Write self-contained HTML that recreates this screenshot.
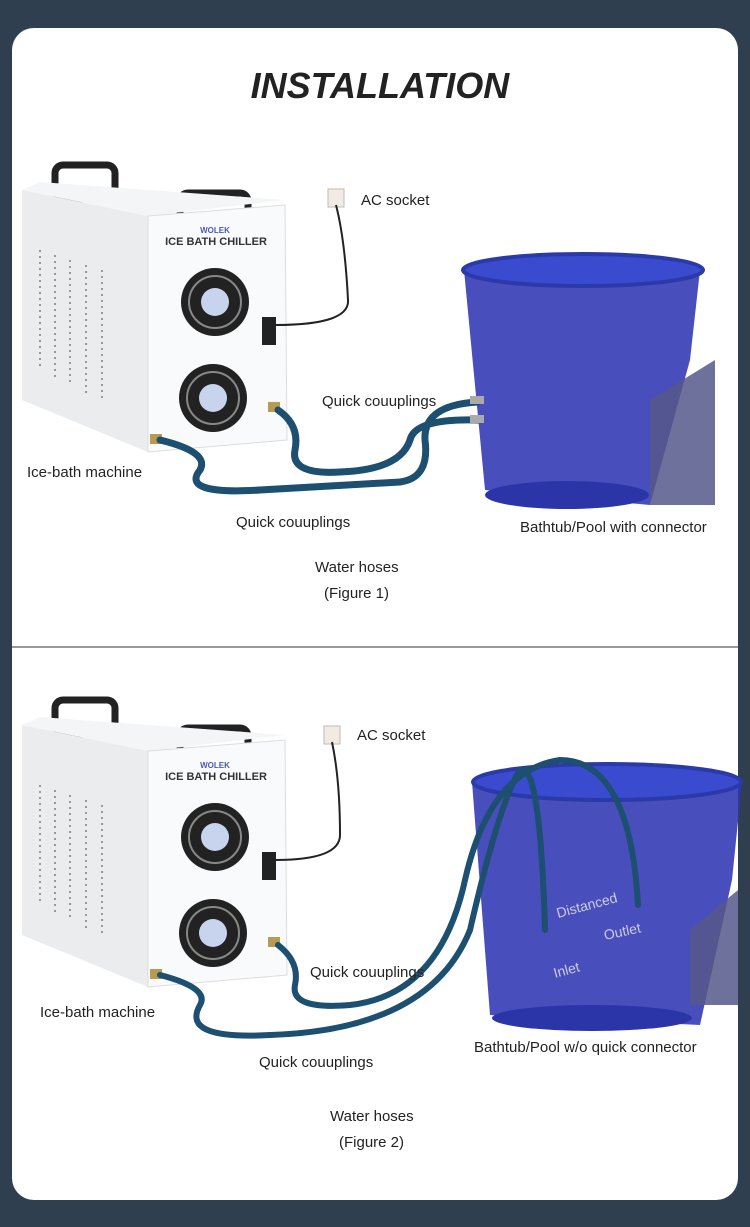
<!DOCTYPE html>
<html><head><meta charset="utf-8"><style>
html,body{margin:0;padding:0;background:#2f3f50;}
body{width:750px;height:1227px;position:relative;overflow:hidden;font-family:"Liberation Sans",sans-serif;}
.card{position:absolute;left:12px;top:28px;width:726px;height:1172px;background:#fff;border-radius:22px;overflow:hidden;}
svg{position:absolute;left:0;top:0;}
</style></head><body>
<div class="card"></div>
<svg width="750" height="1227" viewBox="0 0 750 1227">
<defs>
<g id="mach">
 <rect x="55" y="165" width="60" height="34" rx="8" fill="none" stroke="#222" stroke-width="7"/>
 <rect x="180" y="193" width="68" height="30" rx="8" fill="none" stroke="#222" stroke-width="7"/>
 <polygon points="22,190 148,216 148,452 22,400" fill="#eaecee"/>
 <polygon points="22,190 40,182 285,200 148,216" fill="#f4f5f6"/>
 <polygon points="148,216 285,205 287,440 148,452" fill="#f9fafb" stroke="#ddd"/>
 <g stroke="#999" stroke-width="2" stroke-dasharray="2 4">
  <line x1="40" y1="250" x2="40" y2="370"/><line x1="55" y1="255" x2="55" y2="380"/>
  <line x1="70" y1="260" x2="70" y2="385"/><line x1="86" y1="265" x2="86" y2="395"/>
  <line x1="102" y1="270" x2="102" y2="400"/></g>
 <text x="215" y="233" font-size="8" fill="#4a5ab0" text-anchor="middle" font-weight="bold">WOLEK</text>
 <text x="216" y="245" font-size="11" font-weight="bold" fill="#333" text-anchor="middle">ICE BATH CHILLER</text>
 <circle cx="215" cy="302" r="34" fill="#222"/><circle cx="215" cy="302" r="26" fill="none" stroke="#888" stroke-width="2"/><circle cx="215" cy="302" r="14" fill="#c8d4ee"/>
 <circle cx="213" cy="398" r="34" fill="#222"/><circle cx="213" cy="398" r="26" fill="none" stroke="#888" stroke-width="2"/><circle cx="213" cy="398" r="14" fill="#c8d4ee"/>
 <rect x="262" y="317" width="14" height="28" fill="#222"/>
 <rect x="150" y="434" width="12" height="10" fill="#b89a50"/>
 <rect x="268" y="402" width="12" height="10" fill="#b89a50"/>
</g>
</defs>
<text x="380" y="98" font-size="36" font-weight="bold" font-style="italic" fill="#222" text-anchor="middle">INSTALLATION</text>
<line x1="12" y1="647" x2="738" y2="647" stroke="#333" stroke-width="1"/>

<!-- Figure 1 -->
<use href="#mach"/>
<rect x="328" y="189" width="16" height="18" fill="#f3ebe3" stroke="#bbb"/>
<path d="M336 205 Q345 240 348 300 Q350 325 275 325" fill="none" stroke="#222" stroke-width="2"/>
<g fill="none" stroke="#1d4f70" stroke-width="7" stroke-linecap="round">
 <path d="M160 440 Q210 452 200 470 Q180 495 260 490 L400 482 Q430 478 425 440 Q423 405 478 402"/>
 <path d="M278 410 Q300 425 295 450 Q290 475 340 472 Q400 470 410 440 Q415 418 478 420"/>
</g>
<polygon points="464,270 700,270 690,360 650,505 485,490" fill="#3036b4" opacity="0.88"/>
<polygon points="650,400 715,360 715,505 650,505" fill="#55588a" opacity="0.85"/>
<ellipse cx="583" cy="270" rx="120" ry="16" fill="#3b4bd0" stroke="#2a3aa8" stroke-width="4"/>
<ellipse cx="567" cy="495" rx="82" ry="14" fill="#2c35a8"/>
<rect x="470" y="396" width="14" height="8" fill="#aaa"/><rect x="470" y="415" width="14" height="8" fill="#aaa"/>
<g font-size="15" fill="#222">
<text x="361" y="205">AC socket</text>
<text x="322" y="406">Quick couuplings</text>
<text x="27" y="477">Ice-bath machine</text>
<text x="236" y="527">Quick couuplings</text>
<text x="520" y="532">Bathtub/Pool with connector</text>
<text x="315" y="572">Water hoses</text>
<text x="324" y="598">(Figure 1)</text>
</g>

<!-- Figure 2 -->
<use href="#mach" transform="translate(0,535)"/>
<rect x="324" y="726" width="16" height="18" fill="#f3ebe3" stroke="#bbb"/>
<path d="M332 742 Q340 780 340 835 Q340 860 275 860" fill="none" stroke="#222" stroke-width="2"/>
<polygon points="472,782 742,782 732,880 700,1025 490,1015" fill="#3036b4" opacity="0.88"/>
<polygon points="690,930 738,890 738,1005 690,1005" fill="#55588a" opacity="0.85"/>
<ellipse cx="607" cy="782" rx="134" ry="18" fill="#3b4bd0" stroke="#2a3aa8" stroke-width="4"/>
<ellipse cx="592" cy="1018" rx="100" ry="13" fill="#2c35a8"/>
<g fill="none" stroke="#1d4f70" stroke-width="6" stroke-linecap="round">
 <path d="M160 975 Q210 988 200 1005 Q180 1040 270 1035 Q430 1030 470 930 Q500 800 520 770 Q540 760 545 930"/>
 <path d="M278 945 Q300 962 295 985 Q290 1010 350 1005 Q440 995 465 880 Q490 770 560 760 Q630 760 638 905"/>
</g>
<g font-size="14" fill="#ccd">
<text x="558" y="918" transform="rotate(-15 558 918)">Distanced</text>
<text x="605" y="940" transform="rotate(-12 605 940)">Outlet</text>
<text x="555" y="978" transform="rotate(-15 555 978)">Inlet</text>
</g>
<g font-size="15" fill="#222">
<text x="357" y="740">AC socket</text>
<text x="310" y="977">Quick couuplings</text>
<text x="40" y="1017">Ice-bath machine</text>
<text x="259" y="1067">Quick couuplings</text>
<text x="474" y="1052">Bathtub/Pool w/o quick connector</text>
<text x="330" y="1121">Water hoses</text>
<text x="339" y="1147">(Figure 2)</text>
</g>
</svg>
</body></html>
